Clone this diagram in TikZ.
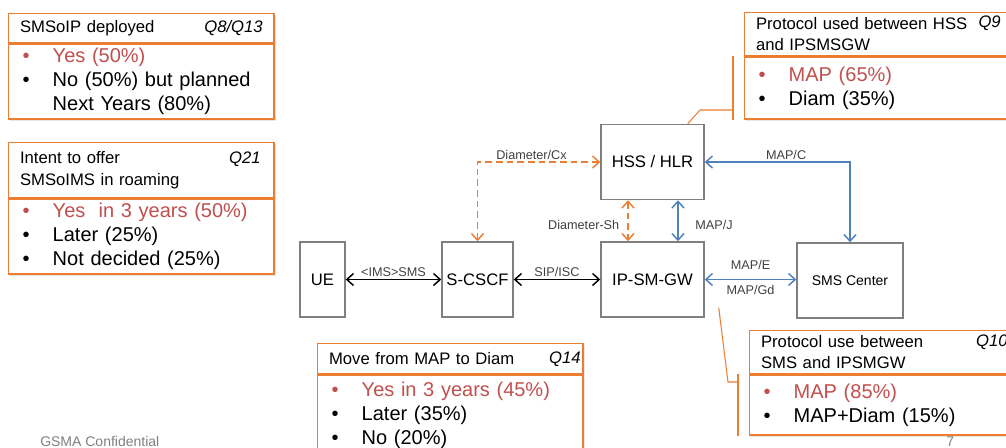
\documentclass[tikz,border=0pt]{standalone}
\usepackage{fontspec}
\setmainfont{Liberation Sans}
\usepackage{xcolor}
\usepackage{tikz}
\usetikzlibrary{positioning,arrows.meta,shadows}

\definecolor{qorange}{HTML}{ED7D31}
\definecolor{qred}{HTML}{C0504D}
\definecolor{qblue}{HTML}{4F81BD}
\definecolor{boxgray}{HTML}{7F7F7F}
\definecolor{lblgray}{HTML}{404040}
\newcommand{\bitem}[1]{\makebox[22.5pt][l]{•}#1}

\begin{document}
\begin{tikzpicture}[x=0.75pt,y=-0.75pt,
            netbox/.style={rectangle,draw=boxgray,line width=1.1pt,minimum height=56.25pt,font=\fontsize{12.5}{14}\selectfont},
            hdrbox/.style={rectangle,draw=qorange,line width=1.1pt,fill=white,minimum width=199pt,text width=182pt,inner xsep=8.5pt,inner ysep=0pt,align=left,font=\fontsize{12.5}{16}\selectfont,drop shadow={opacity=0.2,shadow xshift=1.2pt,shadow yshift=-1.2pt}},
            ansbox/.style={hdrbox,text width=178pt,inner xsep=10.5pt,font=\fontsize{15}{18}\selectfont},
            qlabel/.style={font=\fontsize{12.5}{15}\selectfont\itshape,inner sep=0pt,anchor=east},
            link/.style={<->,>={Straight Barb[length=5pt,width=9pt]},line width=1.1pt},
            diam/.style={link,draw=qorange,dash pattern=on 5pt off 3pt},
            mapln/.style={link,draw=qblue},
            callout/.style={draw=qorange,line width=0.8pt},
            lbl/.style={font=\fontsize{9.5}{11}\selectfont,text=lblgray,inner sep=1.5pt}]
            \useasboundingbox (0,0) rectangle (1006,448);
            \clip (0,0) rectangle (1006,448);
            % network elements
            \node[netbox,minimum width=33.75pt] (ue) at (322.5,279.5) {UE};
            \node[netbox,minimum width=53.25pt] (scscf) at (477.5,279.5) {S-CSCF};
            \node[netbox,minimum width=77.25pt] (ipsmgw) at (652.5,279.5) {IP-SM-GW};
            \node[netbox,minimum width=77.25pt,above=30.75pt of ipsmgw] (hss) {HSS / HLR};
            \node[netbox,minimum width=79.5pt,font=\fontsize{10.5}{12}\selectfont] (smsc) at (850,280.5) {SMS Center};
            \draw[link] (ue) -- node[lbl,above] {<IMS>SMS} (scscf);
            \draw[link] (scscf) -- node[lbl,above] {SIP/ISC} (ipsmgw);
            \draw[diam] (scscf.north) |- node[lbl,above,pos=0.72] {Diameter/Cx} (hss.west);
            \draw[diam] ([xshift=-18.4pt]hss.south) -- node[lbl,left=4.5pt,yshift=-3pt] {Diameter-Sh} ([xshift=-18.4pt]ipsmgw.north);
            \draw[mapln] ([xshift=19.1pt]hss.south) -- node[lbl,right=11pt,yshift=-3pt] {MAP/J} ([xshift=19.1pt]ipsmgw.north);
            \draw[mapln] (smsc.north) |- node[lbl,above,pos=0.72] {MAP/C} (hss.east);
            \draw[mapln] (ipsmgw.east) -- node[lbl,above=5pt] {MAP/E} node[lbl,below=2pt] {MAP/Gd} (ipsmgw.east -| smsc.west);
            % survey boxes
            \node[hdrbox,minimum height=21.75pt,anchor=north west] (h1) at (8,13) {SMSoIP deployed};
            \node[ansbox,minimum height=56.25pt,below=0pt of h1] (a1) {\textcolor{qred}{\bitem{Yes (50\%)}}\\ \bitem{No (50\%) but planned}\\ \hspace*{22.5pt}Next Years (80\%)};
            \node[qlabel] (q1) at (263,28) {Q8/Q13};
            \node[hdrbox,minimum height=41.25pt,anchor=north west] (h2) at (8,142) {Intent to offer\\SMSoIMS in roaming};
            \node[ansbox,minimum height=56.25pt,below=0pt of h2] (a2) {\textcolor{qred}{\bitem{Yes\ \ in 3 years (50\%)}}\\ \bitem{Later (25\%)}\\ \bitem{Not decided (25\%)}};
            \node[qlabel] (q2) at (261,159) {Q21};
            \node[hdrbox,minimum height=32.25pt,anchor=north west] (h9) at (744,12) {Protocol used between HSS\\and IPSMSGW};
            \node[ansbox,minimum height=46.5pt,below=0pt of h9] (a9) {\textcolor{qred}{\bitem{MAP (65\%)}}\\ \bitem{Diam (35\%)}};
            \node[qlabel] (q9) at (1001,23) {Q9};
            \node[hdrbox,minimum height=32.25pt,anchor=north west] (h10) at (749,330) {Protocol use between\\SMS and IPSMGW};
            \node[ansbox,minimum height=45pt,below=0pt of h10] (a10) {\textcolor{qred}{\bitem{MAP (85\%)}}\\ \bitem{MAP+Diam (15\%)}};
            \node[qlabel] (q10) at (1008,342) {Q10};
            \node[hdrbox,minimum height=22.5pt,anchor=north west] (h14) at (317,343) {Move from MAP to Diam};
            \node[ansbox,minimum height=60pt,below=0pt of h14] (a14) {\textcolor{qred}{\bitem{Yes in 3 years (45\%)}}\\ \bitem{Later (35\%)}\\ \bitem{No (20\%)}};
            \node[qlabel] (q14) at (581,359) {Q14};
            % callouts
            \coordinate (k9) at (700,110);
            \coordinate (t9) at ([xshift=-8.25pt]a9.west);
            \draw[callout] ([xshift=-12.75pt]hss.north east) -- (k9) -- (k9 -| t9);
            \draw[callout] (t9 |- a9.north) -- (t9 |- a9.south);
            \coordinate (k10) at (728,382);
            \coordinate (t10) at ([xshift=-8.25pt]a10.west);
            \draw[callout] ([xshift=10.5pt,yshift=7.5pt]ipsmgw.south east) -- (k10) -- (k10 -| t10);
            \draw[callout] (t10 |- a10.north) -- (t10 |- a10.south);
            % footer
            \node[anchor=base west,font=\fontsize{10.5}{12}\selectfont,text=gray,inner sep=0pt] (conf) at (40,446) {GSMA Confidential};
            \node[anchor=base west,font=\fontsize{10.5}{12}\selectfont,text=gray,inner sep=0pt] (pgno) at (946,446) {7};
        \end{tikzpicture}
\end{document}
